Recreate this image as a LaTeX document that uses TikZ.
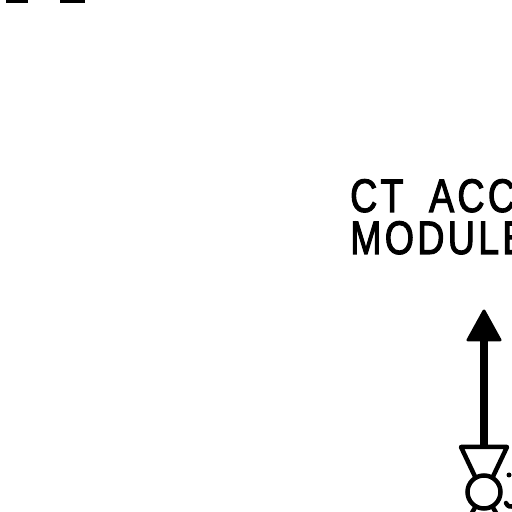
\documentclass[tikz,border=0pt]{standalone}
\usepackage{fontspec}
\setmainfont{Liberation Sans}[FakeStretch=0.8,FakeBold=2.2,LetterSpace=7]
\tikzset{
  wire/.style={line width=4.5pt,line cap=round,line join=round},
  caption/.style={anchor=base west,inner sep=0pt,font=\fontsize{47}{47}\selectfont}
}
\begin{document}
\begin{tikzpicture}[x=1pt,y=1pt]
\useasboundingbox (0,0) rectangle (512,512);
\clip (0,0) rectangle (512,512);
% Caption
\node[caption] (lineone) at (350,300) {CT\hspace{0.25em} ACC};
\node[caption] (linetwo) at (350,258) {MODULE};
% Arrow
\coordinate (tip) at (484,201);
\coordinate (base) at (484,65);
\draw[line width=8.5pt] (484,175) -- (base);
\fill[line join=round,draw,line width=3pt] (tip) -- (500,172) -- (468,172) -- cycle;
% Symbol
\node[draw,circle,line width=4.5pt,minimum size=33pt,inner sep=0pt] (ring) at (484,20) {};
\coordinate (left) at (461,65);
\coordinate (right) at (507,65);
\draw[wire] (ring.120) -- (left) -- (right) -- (ring.60);
\draw[wire] (ring.240) -- +(-4,-7);
\draw[wire] (ring.300) -- +(4,-7);
% Fragment at right edge
\fill (509,37) circle (2.5pt);
\draw[wire] (506,9) .. controls (508,5) and (510,5) .. (514,6);
% Top edge
\fill (6,509) rectangle (28,512);
\fill (60,509) rectangle (85,512);
\end{tikzpicture}
\end{document}
